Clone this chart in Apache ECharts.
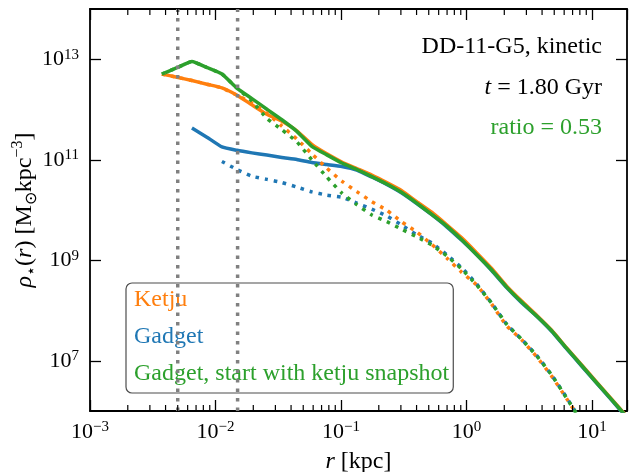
<!DOCTYPE html>
<html><head><meta charset="utf-8">
<script src="https://cdn.jsdelivr.net/npm/echarts@6/dist/echarts.min.js"></script>
<style>html,body{margin:0;padding:0;background:#fff}#c{width:630px;height:472px}</style>
</head><body><div id="c"></div>
<script>
// ---- data (r in kpc, density in Msun/kpc^3) ----
const rGrid = [0.00374, 0.00493, 0.00649, 0.00854, 0.01125, 0.0148, 0.0195, 0.02566, 0.03379, 0.04446, 0.05855, 0.07706, 0.1015, 0.1336, 0.1759, 0.2315, 0.3048, 0.4012, 0.5282, 0.6955, 0.9158, 1.206, 1.587, 2.089, 2.750, 3.622, 4.768, 6.279, 8.266, 10.88, 14.33, 18.86];
const ketjuSolid = [5.08e12, 4.39e12, 3.77e12, 3.19e12, 2.69e12, 1.93e12, 1.24e12, 8.05e11, 5.83e11, 3.77e11, 2.02e11, 1.31e11, 9.04e10, 6.70e10, 4.97e10, 3.52e10, 2.43e10, 1.47e10, 9.04e9, 5.08e9, 2.79e9, 1.40e9, 6.85e8, 3.06e8, 1.54e8, 8.05e7, 4.04e7, 1.80e7, 8.24e6, 3.77e6, 1.72e6, 7.87e5];
const gadgetSolid = [null, null, 4.29e11, 2.81e11, 1.80e11, 1.54e11, 1.37e11, 1.24e11, 1.11e11, 1.01e11, 8.83e10, 8.05e10, 7.35e10, 6.25e10, 4.53e10, 3.21e10, 2.17e10, 1.34e10, 8.05e9, 4.63e9, 2.49e9, 1.28e9, 6.25e8, 2.86e8, 1.43e8, 7.69e7, 3.85e7, 1.72e7, 7.87e6, 3.60e6, 1.64e6, 7.52e5];
const startSolid = [5.08e12, 6.79e12, 9.04e12, 6.85e12, 5.08e12, 2.67e12, 1.65e12, 1.01e12, 6.25e11, 3.68e11, 1.85e11, 1.25e11, 8.63e10, 6.40e10, 4.63e10, 3.28e10, 2.22e10, 1.37e10, 8.17e9, 4.79e9, 2.56e9, 1.29e9, 6.40e8, 2.92e8, 1.47e8, 7.76e7, 3.96e7, 1.76e7, 8.05e6, 3.65e6, 1.68e6, 7.69e5];
const ketjuDotted = [5.08e12, 4.39e12, 3.77e12, 3.19e12, 2.69e12, 1.93e12, 1.34e12, 8.43e11, 4.68e11, 2.58e11, 1.31e11, 6.79e10, 3.77e10, 2.32e10, 1.47e10, 9.91e9, 5.78e9, 3.65e9, 2.07e9, 1.11e9, 5.75e8, 3.21e8, 1.34e8, 4.97e7, 2.61e7, 1.20e7, 4.94e6, 1.76e6, 6.11e5, null, null, null];
const gadgetDotted = [null, null, null, null, 9.25e10, 6.40e10, 4.70e10, 4.07e10, 3.52e10, 2.86e10, 2.29e10, 1.98e10, 1.80e10, 1.37e10, 1.04e10, 7.59e9, 5.01e9, 3.21e9, 2.22e9, 1.29e9, 7.08e8, 3.36e8, 1.40e8, 5.32e7, 2.67e7, 1.28e7, 5.20e6, 1.85e6, 6.11e5, null, null, null];
const startDotted = [5.08e12, 6.79e12, 9.04e12, 6.85e12, 5.08e12, 2.67e12, 1.47e12, 6.64e11, 3.96e11, 2.27e11, 1.00e11, 4.53e10, 2.17e10, 1.28e10, 7.98e9, 5.86e9, 4.13e9, 2.92e9, 2.02e9, 1.22e9, 6.70e8, 3.21e8, 1.40e8, 5.32e7, 2.67e7, 1.25e7, 5.20e6, 1.80e6, 6.11e5, null, null, null];
const vLines = [0.005, 0.015];
const seriesNames = ['Ketju', 'Gadget', 'Gadget, start with ketju snapshot'];
const xMin = 1e-3, xMax = 19;
const yMin = 1e6, yMax = 1e14;
const xMinorTicks = [2e-3,3e-3,4e-3,5e-3,6e-3,7e-3,8e-3,9e-3, 2e-2,3e-2,4e-2,5e-2,6e-2,7e-2,8e-2,9e-2, 0.2,0.3,0.4,0.5,0.6,0.7,0.8,0.9, 2,3,4,5,6,7,8,9];
const yExps = [6, 7, 8, 9, 10, 11, 12, 13, 14];
const yTickExps = [7, 9, 11, 13];
const annot1 = 'DD-11-G5, kinetic';
const annot2 = '{i|t} = 1.80 Gyr';
const annot3 = 'ratio = 0.53';

// ---- styling ----
const FONT = '"Liberation Serif", "Times New Roman", serif';
const C = ['#ff7f0e', '#1f77b4', '#2ca02c'];
const LW = 3.5;
const DOT = [3.5, 5.8];
const sup = (s) => String(s).replace('-', '\u2212');
const pair = (arr) => rGrid.map((r, i) => [r, arr[i]]).filter(d => d[1] != null);
const richTick = {
  b: {fontFamily: FONT, fontSize: 22, lineHeight: 24, color: '#000'},
  s: {fontFamily: FONT, fontSize: 15, lineHeight: 15, verticalAlign: 'top', color: '#000'}
};
const lineS = (name, arr, color, dotted, z) => ({
  name, type: 'line', data: pair(arr), showSymbol: false, symbol: 'none', animation: false,
  xAxisIndex: 0, yAxisIndex: 0, z, smooth: 0.15,
  lineStyle: {color, width: LW, type: dotted ? DOT : 'solid', cap: 'butt', join: 'round'},
  itemStyle: {color}, emphasis: {disabled: true}
});
const tickStyle = {color: '#000', width: 1.3};

const chart = echarts.init(document.getElementById('c'), null, {renderer: 'canvas'});
const isPow = (v) => Math.abs(Math.log10(v) - Math.round(Math.log10(v))) < 1e-6;

chart.setOption({
  backgroundColor: '#fff',
  animation: false,
  grid: {left: 90, right: 3, top: 9, bottom: 61, outerBoundsMode: 'none'},
  xAxis: [
    {type: 'log', min: xMin, max: xMax, position: 'bottom',
     axisLine: {show: true, onZero: false, lineStyle: {color: '#000', width: 1.8}},
     axisTick: {show: true, inside: true, length: 11, lineStyle: tickStyle},
     splitLine: {show: false},
     axisLabel: {margin: 9, rich: richTick,
       formatter: (v) => isPow(v) ? '{b|10}{s|' + sup(Math.round(Math.log10(v))) + '}' : ''},
     name: '{i|r} [kpc]', nameLocation: 'middle', nameGap: 34,
     nameTextStyle: {fontFamily: FONT, fontSize: 24, color: '#000', lineHeight: 28,
       rich: {i: {fontFamily: FONT, fontSize: 24, fontStyle: 'italic', color: '#000', lineHeight: 28}}}},
    {type: 'log', min: xMin, max: xMax, position: 'top',
     axisLine: {show: true, onZero: false, lineStyle: {color: '#000', width: 1.8}},
     axisTick: {show: true, inside: true, length: 11, lineStyle: tickStyle},
     splitLine: {show: false}, axisLabel: {show: false}}
  ],
  yAxis: [
    {type: 'log', min: yMin, max: yMax, position: 'left',
     axisLine: {show: true, onZero: false, lineStyle: {color: '#000', width: 1.8}},
     axisTick: {show: false}, axisLabel: {show: false}, splitLine: {show: false},
     name: '{i|\u03c1}{sb|\u22c6}{n|(}{i|r}{n|) [M}{sb|\u2299}{n|kpc}{sp|\u22123}{n|]}',
     nameLocation: 'middle', nameRotate: 90, nameGap: 50,
     nameTextStyle: {fontFamily: FONT, fontSize: 24, color: '#000', lineHeight: 30,
       rich: {
         n: {fontFamily: FONT, fontSize: 24, color: '#000', lineHeight: 30},
         i: {fontFamily: FONT, fontSize: 24, fontStyle: 'italic', color: '#000', lineHeight: 30},
         sb: {fontFamily: FONT, fontSize: 16, color: '#000', lineHeight: 16, verticalAlign: 'bottom'},
         sp: {fontFamily: FONT, fontSize: 16, color: '#000', lineHeight: 16, verticalAlign: 'top'}
       }}},
    {type: 'category', data: yExps.map(String), boundaryGap: false, position: 'left',
     axisLine: {show: false},
     axisTick: {show: true, inside: true, length: 11, lineStyle: tickStyle,
       interval: (i, v) => yTickExps.includes(Number(v))},
     axisLabel: {margin: 11, rich: richTick,
       interval: (i, v) => yTickExps.includes(Number(v)),
       formatter: (v) => '{b|10}{s|' + sup(v) + '}'},
     splitLine: {show: false}},
    {type: 'category', data: yExps.map(String), boundaryGap: false, position: 'right',
     axisLine: {show: true, lineStyle: {color: '#000', width: 1.8}},
     axisTick: {show: true, inside: true, length: 11, lineStyle: tickStyle,
       interval: (i, v) => yTickExps.includes(Number(v))},
     axisLabel: {show: false}, splitLine: {show: false}}
  ],
  legend: {
    left: 126, top: 283, orient: 'vertical', selectedMode: false,
    backgroundColor: 'rgba(255,255,255,0.8)', borderColor: '#4d4d4d', borderWidth: 1.2, borderRadius: 6,
    padding: [5, 4, 7, 3], itemGap: 13, itemWidth: 0, itemHeight: 24,
    textStyle: {fontFamily: FONT, fontSize: 24, lineHeight: 24},
    data: seriesNames.map((n, i) => ({name: n, icon: 'none', textStyle: {color: C[i], fontFamily: FONT, fontSize: 24}}))
  },
  graphic: [
    {type: 'text', x: 602, y: 47, z: 10, style: {text: annot1, fontFamily: FONT, fontSize: 24, fill: '#000', align: 'right', verticalAlign: 'middle'}},
    {type: 'text', x: 602, y: 88, z: 10, style: {text: annot2, fontFamily: FONT, fontSize: 24, fill: '#000', align: 'right', verticalAlign: 'middle',
      rich: {i: {fontFamily: FONT, fontSize: 24, fontStyle: 'italic', fill: '#000'}}}},
    {type: 'text', x: 602, y: 128, z: 10, style: {text: annot3, fontFamily: FONT, fontSize: 24, fill: C[2], align: 'right', verticalAlign: 'middle'}}
  ],
  series: [
    lineS(seriesNames[0], ketjuSolid, C[0], false, 2),
    lineS(seriesNames[1], gadgetSolid, C[1], false, 2),
    lineS(seriesNames[2], startSolid, C[2], false, 2),
    lineS(seriesNames[0] + ' (dotted)', ketjuDotted, C[0], true, 3),
    lineS(seriesNames[1] + ' (dotted)', gadgetDotted, C[1], true, 3),
    lineS(seriesNames[2] + ' (dotted)', startDotted, C[2], true, 3),
    ...vLines.map((v, k) => ({
      name: 'vline' + k, type: 'line', data: [[v, yMin], [v, yMax]], showSymbol: false, symbol: 'none',
      silent: true, z: 4, xAxisIndex: 0, yAxisIndex: 0,
      lineStyle: {color: '#808080', width: 3.5, type: [3.5, 6], cap: 'butt'}, emphasis: {disabled: true}
    })),
    {type: 'custom', name: 'minorTicks', xAxisIndex: 0, yAxisIndex: 0, silent: true, clip: false, z: 5,
     data: xMinorTicks.map(v => [v, yMin]),
     renderItem: (params, api) => {
       const x = api.coord([api.value(0), yMin])[0];
       const cs = params.coordSys;
       const st = {stroke: '#000', lineWidth: 1.2};
       return {type: 'group', children: [
         {type: 'line', shape: {x1: x, y1: cs.y + cs.height, x2: x, y2: cs.y + cs.height - 6}, style: st},
         {type: 'line', shape: {x1: x, y1: cs.y, x2: x, y2: cs.y + 6}, style: st}
       ]};
     }}
  ]
});
</script></body></html>
